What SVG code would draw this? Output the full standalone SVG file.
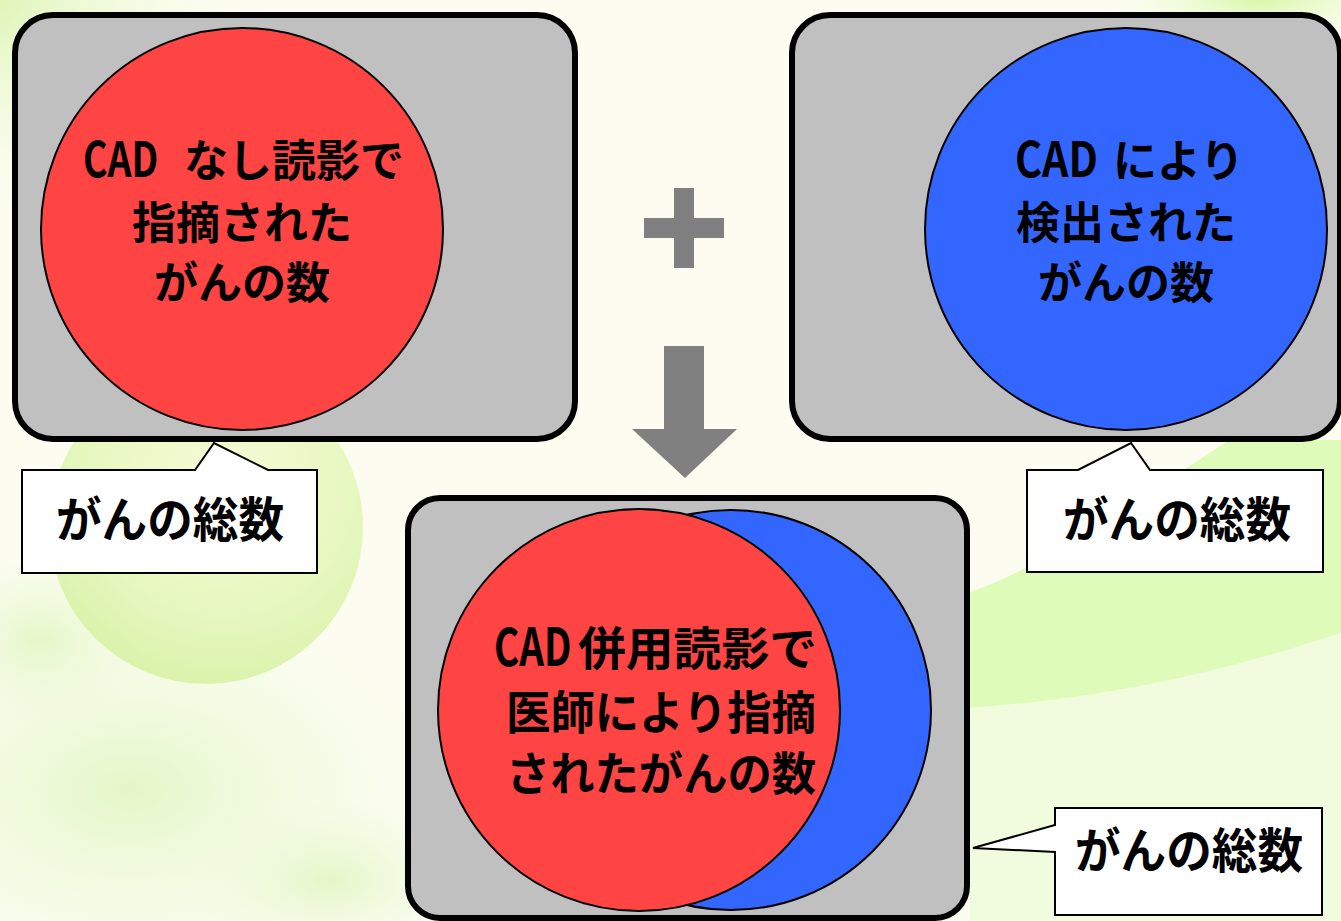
<svg xmlns="http://www.w3.org/2000/svg" width="1341" height="921" viewBox="0 0 1341 921">
<defs>
<radialGradient id="gTL" cx="0" cy="0" r="1" gradientUnits="objectBoundingBox"><stop offset="0" stop-color="#dff5b8"/><stop offset="1" stop-color="#fcfdf0" stop-opacity="0"/></radialGradient>
<radialGradient id="gSphere" cx="0.55" cy="0.35" r="0.65"><stop offset="0" stop-color="#f4fbcf"/><stop offset="0.65" stop-color="#e2f6b4"/><stop offset="1" stop-color="#d4f19e"/></radialGradient>
<radialGradient id="gWash" cx="0.5" cy="0.5" r="0.5"><stop offset="0" stop-color="#e4f7c8"/><stop offset="1" stop-color="#eef9dc" stop-opacity="0"/></radialGradient>
<radialGradient id="gWash2" cx="0.5" cy="0.5" r="0.5"><stop offset="0" stop-color="#d8f8a8"/><stop offset="1" stop-color="#e8fbd0" stop-opacity="0"/></radialGradient>
<style>
.box{fill:#c0c0c0;stroke:#000;stroke-width:6}
.red{fill:#ff4444;stroke:#000;stroke-width:2}
.blue{fill:#3366ff;stroke:#000;stroke-width:2}
.call{fill:#fff;stroke:#000;stroke-width:2;stroke-linejoin:miter}
.t{font-family:"Noto Sans CJK JP","Noto Sans CJK SC",sans-serif;font-weight:700;fill:#000}
.c44{font-size:44px}
.c46{font-size:46px}
.c48{font-size:48px}
.sym{fill:#808080}
</style>
</defs>
<g id="background">
<rect x="0" y="0" width="1341" height="921" fill="#fcfdf0"/>
<rect x="0" y="0" width="260" height="240" fill="url(#gTL)"/>
<ellipse cx="130" cy="790" rx="300" ry="190" fill="url(#gWash)"/>
<ellipse cx="40" cy="640" rx="110" ry="90" fill="url(#gWash)"/>
<ellipse cx="330" cy="880" rx="140" ry="80" fill="url(#gWash)"/>
<circle cx="206" cy="527" r="157" fill="url(#gSphere)" opacity="0.8"/>
<path d="M970,592 C1060,560 1150,490 1230,440 L1341,440 L1341,633 C1200,680 1080,700 970,708 Z" fill="#dcfbb2" opacity="0.9"/>
<path d="M970,708 C1080,700 1200,680 1341,633 L1341,921 L970,921 Z" fill="#edfbd9" opacity="0.85"/>
<ellipse cx="1260" cy="0" rx="140" ry="40" fill="url(#gWash2)"/>
</g>
<g id="node-no-cad">
<rect class="box" x="15" y="15" width="560" height="424" rx="38"/>
<circle class="red" cx="242" cy="229" r="201"/>
<text class="t" font-size="48" transform="translate(83,177) scale(0.78,1)">CAD</text>
<text class="t c44" x="184" y="177">なし読影で</text>
<text class="t c44" x="242" y="239" text-anchor="middle">指摘された</text>
<text class="t c44" x="242" y="299" text-anchor="middle">がんの数</text>
</g>
<g id="node-cad">
<rect class="box" x="792" y="15" width="548" height="424" rx="38"/>
<circle class="blue" cx="1126" cy="229" r="201"/>
<text class="t" font-size="48" transform="translate(1015,177) scale(0.86,1)">CAD</text>
<text class="t c44" x="1113" y="177">により</text>
<text class="t c44" x="1126" y="239" text-anchor="middle">検出された</text>
<text class="t c44" x="1126" y="299" text-anchor="middle">がんの数</text>
</g>
<g id="node-combined">
<rect class="box" x="408" y="498" width="559" height="420" rx="32"/>
<circle class="blue" cx="731" cy="710" r="200"/>
<circle class="red" cx="639" cy="710" r="201"/>
<text class="t" font-size="52" transform="translate(494,666) scale(0.74,1)">CAD</text>
<text class="t c46" x="578" y="665" textLength="239" lengthAdjust="spacingAndGlyphs">併用読影で</text>
<text class="t c46" x="661" y="729" text-anchor="middle" textLength="310" lengthAdjust="spacingAndGlyphs">医師により指摘</text>
<text class="t c46" x="661" y="790" text-anchor="middle" textLength="310" lengthAdjust="spacingAndGlyphs">されたがんの数</text>
</g>
<g id="callout-left">
<path class="call" d="M22,470 H195 L214,443 L268,470 H317 V573 H22 Z"/>
<text class="t c48" x="170" y="537" text-anchor="middle" textLength="228" lengthAdjust="spacingAndGlyphs">がんの総数</text>
</g>
<g id="callout-right">
<path class="call" d="M1027,470 H1078 L1131,443 L1150,470 H1323 V572 H1027 Z"/>
<text class="t c48" x="1177" y="537" text-anchor="middle" textLength="228" lengthAdjust="spacingAndGlyphs">がんの総数</text>
</g>
<g id="callout-bottom">
<path class="call" d="M1055,808 H1322 V915 H1055 V852 L973,848 L1055,825 Z"/>
<text class="t c48" x="1189" y="868" text-anchor="middle" textLength="228" lengthAdjust="spacingAndGlyphs">がんの総数</text>
</g>
<g id="connectors">
<path class="sym" d="M674,188 H694 V218 H724 V238 H694 V268 H674 V238 H644 V218 H674 Z"/>
<polygon class="sym" points="664,346 704,346 704,429 737,429 685,478 632,429 664,429"/>
</g>
</svg>
